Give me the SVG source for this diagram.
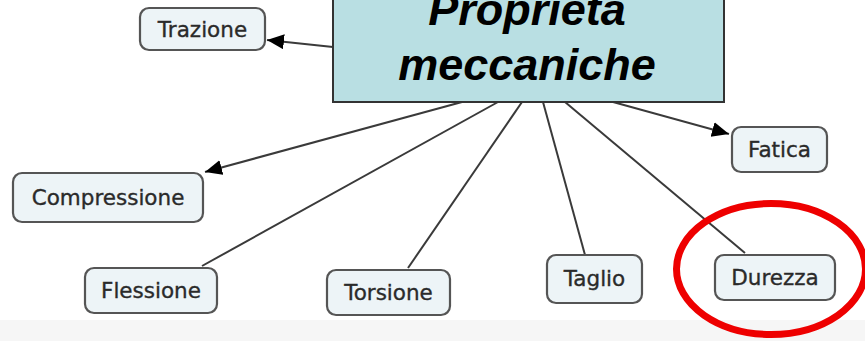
<svg xmlns="http://www.w3.org/2000/svg" width="865" height="341" viewBox="0 0 865 341">
<style>
.node rect{fill:#edf4f7;stroke:#555;stroke-width:2.2}
.node text{font-family:"DejaVu Sans",Verdana,sans-serif;font-size:21.5px;fill:#2a2a2a;stroke:#2a2a2a;stroke-width:0.35;text-anchor:middle}
.conn line{stroke:#3a3a3a;stroke-width:2}
.title{font-family:"Liberation Sans",Arial,sans-serif;font-weight:bold;font-style:italic;font-size:45px;fill:#000;text-anchor:middle}
</style>
<defs>
<marker id="arr" markerUnits="userSpaceOnUse" markerWidth="20" markerHeight="16" refX="17" refY="7.5" orient="auto">
<path d="M0,0 L17,7.5 L0,15 Z" fill="#000"/>
</marker>
</defs>
<rect x="0" y="0" width="865" height="341" fill="#fff"/>
<rect x="0" y="320" width="865" height="21" fill="#f6f6f6"/>
<g id="connectors" class="conn">
<line x1="333" y1="47" x2="267" y2="40" marker-end="url(#arr)"/>
<line x1="462" y1="102" x2="205" y2="172" marker-end="url(#arr)"/>
<line x1="613" y1="102" x2="729" y2="134" marker-end="url(#arr)"/>
<line x1="498" y1="102" x2="202" y2="266"/>
<line x1="522" y1="102" x2="408" y2="268"/>
<line x1="543" y1="102" x2="585" y2="255"/>
<line x1="565" y1="102" x2="745" y2="253"/>
</g>
<g id="main">
<rect x="333" y="-5" width="391" height="107" fill="#b9dfe3" stroke="#333" stroke-width="2"/>
<text class="title" x="527" y="25">Proprietà</text>
<text class="title" x="527" y="80">meccaniche</text>
</g>
<g id="trazione" class="node"><rect x="140" y="8" width="125" height="42" rx="9"/><text x="202.5" y="37">Trazione</text></g>
<g id="compressione" class="node"><rect x="13" y="173" width="190" height="49" rx="9"/><text x="108" y="205">Compressione</text></g>
<g id="fatica" class="node"><rect x="732" y="127" width="95" height="45" rx="9"/><text x="779.5" y="157">Fatica</text></g>
<g id="flessione" class="node"><rect x="85" y="268" width="132" height="45" rx="9"/><text x="151" y="298">Flessione</text></g>
<g id="torsione" class="node"><rect x="327" y="270" width="123" height="45" rx="9"/><text x="388.5" y="300">Torsione</text></g>
<g id="taglio" class="node"><rect x="547" y="255" width="95" height="48" rx="9"/><text x="594.5" y="286">Taglio</text></g>
<g id="durezza" class="node"><rect x="715" y="255" width="120" height="45" rx="9"/><text x="775" y="285">Durezza</text></g>
<ellipse cx="771" cy="269" rx="94.5" ry="65.5" fill="none" stroke="#ee0000" stroke-width="7"/>
</svg>
